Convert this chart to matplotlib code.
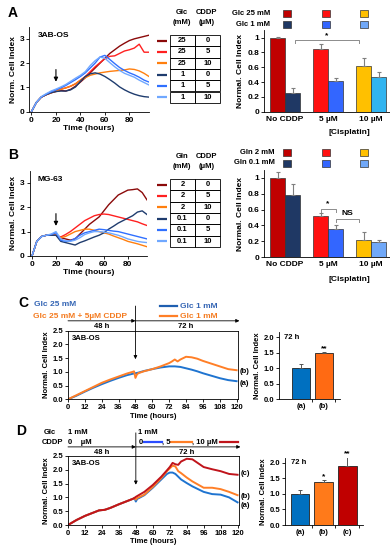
import matplotlib
matplotlib.use("Agg")
import matplotlib.pyplot as plt
from matplotlib.patches import Rectangle

plt.rcParams["font.family"] = ["Liberation Sans", "DejaVu Sans"]
plt.rcParams["font.weight"] = "bold"
plt.rcParams["axes.labelweight"] = "bold"
plt.rcParams["font.size"] = 5.5
plt.rcParams["axes.linewidth"] = 0.6
plt.rcParams["xtick.major.width"] = 0.6
plt.rcParams["ytick.major.width"] = 0.6
plt.rcParams["xtick.major.size"] = 2
plt.rcParams["ytick.major.size"] = 2
plt.rcParams["xtick.major.pad"] = 1.5
plt.rcParams["ytick.major.pad"] = 1.5

# -----------------------
# dados
# -----------------------
t_ab = [0, 4, 8, 12, 16, 20, 24, 28, 32, 36, 40, 44, 48, 52, 56, 60, 64, 68, 72, 76, 80, 84, 88, 92, 96]

a_glc25_0 = [0, 0.38, 0.6, 0.7, 0.78, 0.83, 0.88, 0.85, 0.92, 1.05, 1.22, 1.4, 1.6, 1.8, 2.0, 2.2, 2.4, 2.55, 2.7, 2.82, 2.93, 3.0, 3.05, 3.1, 3.15]
a_glc25_5 = [0, 0.38, 0.6, 0.7, 0.78, 0.85, 0.93, 0.98, 1.05, 1.15, 1.3, 1.45, 1.65, 1.85, 2.02, 2.18, 2.28, 2.3, 2.4, 2.5, 2.55, 2.62, 2.78, 2.45, 2.45]
a_glc25_10 = [0, 0.38, 0.6, 0.7, 0.78, 0.85, 0.92, 0.98, 1.05, 1.15, 1.3, 1.4, 1.5, 1.55, 1.6, 1.63, 1.66, 1.68, 1.7, 1.72, 1.76, 1.74, 1.68, 1.58, 1.45]
a_glc1_0 = [0, 0.38, 0.6, 0.7, 0.78, 0.83, 0.85, 0.85, 0.9, 1.02, 1.25, 1.45, 1.56, 1.6, 1.55, 1.45, 1.32, 1.18, 1.02, 0.9, 0.8, 0.72, 0.66, 0.62, 0.6]
a_glc1_5 = [0, 0.38, 0.6, 0.72, 0.82, 0.9, 0.98, 1.08, 1.2, 1.32, 1.45, 1.6, 1.8, 2.0, 2.25, 2.32, 2.15, 1.98, 1.82, 1.7, 1.6, 1.52, 1.42, 1.3, 1.22]
a_glc1_10 = [0, 0.38, 0.62, 0.74, 0.85, 0.93, 1.02, 1.12, 1.25, 1.38, 1.5, 1.65, 1.9, 2.1, 2.25, 2.2, 2.02, 1.85, 1.7, 1.58, 1.5, 1.42, 1.3, 1.2, 1.1]

b_gln2_0 = [0, 0.6, 0.8, 0.85, 0.85, 0.85, 0.75, 0.7, 0.65, 0.7, 0.9, 1.1, 1.3, 1.45, 1.6, 1.85, 2.1, 2.3, 2.5, 2.6, 2.7, 2.72, 2.75, 2.6, 2.3]
b_gln2_5 = [0, 0.6, 0.8, 0.85, 0.85, 0.85, 0.78, 0.88, 1.0, 1.15, 1.3, 1.45, 1.55, 1.65, 1.7, 1.72, 1.7, 1.65, 1.6, 1.55, 1.5, 1.45, 1.4, 1.32, 1.25]
b_gln2_10 = [0, 0.6, 0.8, 0.85, 0.85, 0.85, 0.75, 0.8, 0.9, 1.0, 1.05, 1.1, 1.1, 1.05, 1.0, 0.95, 0.9, 0.82, 0.75, 0.68, 0.6, 0.55, 0.5, 0.44, 0.38]
b_gln01_0 = [0, 0.6, 0.8, 0.85, 0.85, 0.85, 0.6, 0.55, 0.5, 0.45, 0.55, 0.62, 0.7, 0.78, 0.85, 0.95, 1.1, 1.22, 1.35, 1.45, 1.55, 1.65, 1.8, 1.85, 1.7]
b_gln01_5 = [0, 0.6, 0.8, 0.85, 0.88, 0.95, 0.65, 0.6, 0.62, 0.72, 0.85, 0.95, 1.0, 1.05, 1.1, 1.08, 1.05, 1.02, 1.0, 0.95, 0.9, 0.85, 0.8, 0.75, 0.7]
b_gln01_10 = [0, 0.6, 0.8, 0.85, 0.9, 1.0, 0.7, 0.62, 0.6, 0.65, 0.75, 0.88, 0.95, 1.0, 1.0, 0.98, 0.95, 0.9, 0.85, 0.78, 0.7, 0.65, 0.6, 0.57, 0.55]

tabela_a = [["25", "0"], ["25", "5"], ["25", "10"], ["1", "0"], ["1", "5"], ["1", "10"]]
tabela_b = [["2", "0"], ["2", "5"], ["2", "10"], ["0.1", "0"], ["0.1", "5"], ["0.1", "10"]]

grupos = ["No CDDP", "5 µM", "10 µM"]
barras_a = [1.0, 0.25, 0.85, 0.42, 0.62, 0.47]
erros_a = [0.01, 0.07, 0.07, 0.04, 0.1, 0.06]
barras_b = [1.0, 0.79, 0.52, 0.35, 0.22, 0.19]
erros_b = [0.08, 0.13, 0.04, 0.06, 0.1, 0.03]

t_c = [0, 6, 12, 18, 24, 30, 36, 42, 46, 47, 48, 49, 50, 54, 60, 66, 72, 74, 76, 78, 80, 84, 88, 92, 96, 102, 108, 114, 120]
c_a = [0, 0.13, 0.28, 0.42, 0.55, 0.67, 0.78, 0.88, 0.93, 0.94, 0.95, 0.96, 0.97, 1.03, 1.1, 1.16, 1.2, 1.2, 1.2, 1.19, 1.18, 1.13, 1.08, 1.02, 0.95, 0.86, 0.77, 0.7, 0.66]
c_b = [0, 0.15, 0.3, 0.45, 0.6, 0.72, 0.83, 0.94, 1.0, 1.02, 0.78, 0.9, 0.95, 1.02, 1.1, 1.2, 1.32, 1.38, 1.45, 1.38, 1.45, 1.55, 1.53, 1.48, 1.4, 1.3, 1.2, 1.1, 1.06]

t_d = [0, 6, 12, 18, 22, 26, 30, 36, 42, 46, 47, 48, 49, 50, 54, 60, 66, 70, 72, 74, 76, 78, 80, 84, 88, 96, 102, 108, 114, 120]
d_a = [0, 0.18, 0.33, 0.45, 0.53, 0.55, 0.62, 0.75, 0.87, 0.95, 0.98, 0.85, 0.95, 0.97, 1.08, 1.35, 1.65, 1.85, 1.9, 1.9, 1.85, 1.75, 1.65, 1.52, 1.4, 1.2, 1.12, 1.1, 1.0, 0.82]
d_b = [0, 0.18, 0.33, 0.45, 0.53, 0.55, 0.62, 0.75, 0.87, 0.95, 0.98, 0.92, 0.98, 1.0, 1.1, 1.38, 1.7, 1.95, 2.05, 2.15, 2.12, 1.95, 1.88, 1.72, 1.58, 1.35, 1.35, 1.3, 1.2, 1.08]
d_c = [0, 0.18, 0.33, 0.45, 0.53, 0.55, 0.62, 0.75, 0.87, 0.95, 0.98, 1.02, 1.05, 1.08, 1.2, 1.45, 1.75, 1.98, 2.1, 2.25, 2.2, 2.18, 2.3, 2.4, 2.38, 2.1, 2.02, 1.95, 1.85, 1.82]

rotulos_c = ["(a)", "(b)"]
barras_c = [1.0, 1.5]
erros_c = [0.12, 0.02]
rotulos_d = ["(a)", "(b)", "(c)"]
barras_d = [1.0, 1.38, 1.9]
erros_d = [0.13, 0.07, 0.27]

# cores
cores_linhas = ["#8B0A0A", "#FF2020", "#FF7F0E", "#1F3C6E", "#3070FF", "#70A8FF"]
cores_barras_a = ["#C00000", "#1F3864", "#FF1010", "#3366FF", "#FFC000", "#30B4F0"]
cores_barras_b = ["#C00000", "#1F3864", "#FF1010", "#3366FF", "#FFC000", "#70A8F8"]
cores_leg = ["#C00000", "#FF1010", "#FFC000", "#1F3864", "#3366FF", "#70A8F8"]
azul, laranja, vermelho = "#1F74D0", "#FF7F27", "#C0141B"

W, H = 390, 550


def caixa(l, t, r, b):
    return [l / W, 1 - b / H, (r - l) / W, (b - t) / H]


fig = plt.figure(figsize=(W / 100, H / 100), dpi=100)
ov = fig.add_axes([0, 0, 1, 1])
ov.set_xlim(0, W)
ov.set_ylim(H, 0)
ov.axis("off")


def painel_linhas(rect, t, series, cores, rotulo_y, celula):
    ax = fig.add_axes(rect)
    for y, c in zip(series, cores):
        ax.plot(t, y, color=c, lw=1)
    ax.spines["top"].set_visible(False)
    ax.spines["right"].set_visible(False)
    ax.set_xlim(-2, 96)
    ax.set_xticks([0, 20, 40, 60, 80])
    ax.set_ylim(0, 3.5)
    ax.set_yticks([0, 1, 2, 3])
    ax.tick_params(labelsize=6)
    ax.set_xlabel("Time (hours)", fontsize=6, labelpad=1)
    ax.set_ylabel(rotulo_y, fontsize=6, labelpad=2)
    ax.text(5, 3.15, celula, fontsize=6, weight="bold", va="center")
    ax.annotate("", xy=(20, 1.12), xytext=(20, 1.85),
                arrowprops=dict(arrowstyle="-|>", color="k", lw=0.8, mutation_scale=6))
    return ax


def tabela(y0, linhas, cab, cores):
    ov.text(182, y0 - 22, cab, ha="center", va="center", fontsize=5.5)
    ov.text(182, y0 - 12, "(mM)", ha="center", va="center", fontsize=5.5)
    ov.text(207, y0 - 22, "CDDP", ha="center", va="center", fontsize=5.5)
    ov.text(207, y0 - 12, "(µM)", ha="center", va="center", fontsize=5.5)
    h = 11.3
    for i, (a, b) in enumerate(linhas):
        y = y0 + i * h
        for x, s in [(170, a), (195, b)]:
            ov.add_patch(Rectangle((x, y), 25, h, fill=False, lw=0.6, ec="k"))
            ov.text(x + 12.5, y + h / 2, s, ha="center", va="center", fontsize=5.5)
        ov.plot([157, 167], [y + h / 2, y + h / 2], color=cores[i], lw=1.6,
                solid_capstyle="butt")


def painel_barras(rect, vals, errs, cores, rotulos_leg, y_leg, x_fim_leg):
    ax = fig.add_axes(rect)
    pos = []
    for g in range(3):
        pos += [g - 0.175, g + 0.175]
    ax.bar(pos, vals, width=0.35, color=cores, edgecolor="#333333", lw=0.5,
           yerr=[[0] * 6, errs], error_kw=dict(ecolor="#7F7F7F", lw=0.8, capsize=1.5, capthick=0.8))
    ax.spines["top"].set_visible(False)
    ax.spines["right"].set_visible(False)
    ax.set_xlim(-0.49, 2.44)
    ax.set_ylim(0, 1.1)
    ax.set_yticks([0, 0.2, 0.4, 0.6, 0.8, 1.0])
    ax.set_yticklabels(["0", "0.2", "0.4", "0.6", "0.8", "1"])
    ax.set_xticks([0, 1, 2])
    ax.set_xticklabels(grupos)
    ax.tick_params(axis="x", length=0, labelsize=6, pad=3)
    ax.tick_params(axis="y", labelsize=6)
    ax.set_ylabel("Normal. Cell Index", fontsize=6, labelpad=2)
    ax.text(1.5, -0.28, "[Cisplatin]", transform=ax.transData, ha="center",
            va="center", fontsize=6)
    # legenda em quadrados
    for lin, rot in enumerate(rotulos_leg):
        y = y_leg + lin * 11
        ov.text(x_fim_leg, y, rot, ha="right", va="center", fontsize=5.5)
        for k, x in enumerate([287, 325.5, 364]):
            ov.add_patch(Rectangle((x - 4, y - 3.5), 8, 7, fc=cores_leg[lin * 3 + k],
                                   ec="#333333", lw=0.5))
    return ax, pos


def colchete(ax, x0, x1, y, d, txt, ytxt):
    ax.plot([x0, x0, x1, x1], [y - d, y, y, y - d], color="#8C8C8C", lw=0.7, clip_on=False)
    ax.text((x0 + x1) / 2, ytxt, txt, ha="center", va="center", fontsize=6)


# -----------------------
# Painel A
# -----------------------
ov.text(8, 13, "A", fontsize=10, weight="bold", va="center")
painel_linhas(caixa(29, 26.7, 149, 111.7), t_ab,
              [a_glc25_0, a_glc25_5, a_glc25_10, a_glc1_0, a_glc1_5, a_glc1_10],
              cores_linhas, "Norm. Cell Index", "3AB-OS")
tabela(35, tabela_a, "Glc", cores_linhas)
axa, pos = painel_barras(caixa(264, 30.3, 390, 111.7), barras_a, erros_a, cores_barras_a,
                         ["Glc 25 mM", "Glc 1 mM"], 13.5, 270)
colchete(axa, pos[1] + 0.05, pos[4] - 0.1, 0.97, 0.04, "*", 1.03)

# -----------------------
# Painel B
# -----------------------
ov.text(8, 155, "B", fontsize=10, weight="bold", va="center")
painel_linhas(caixa(29.6, 170.6, 147, 256), t_ab,
              [b_gln2_0, b_gln2_5, b_gln2_10, b_gln01_0, b_gln01_5, b_gln01_10],
              cores_linhas, "Normal. Cell Index", "MG-63")
tabela(179, tabela_b, "Gln", cores_linhas)
axb, pos = painel_barras(caixa(264, 170.1, 390, 257), barras_b, erros_b, cores_barras_b,
                         ["Gln 2 mM", "Gln 0.1 mM"], 152, 275)
colchete(axb, pos[2], pos[3], 0.61, 0.04, "*", 0.68)
colchete(axb, pos[3], pos[4] - 0.1, 0.48, 0.04, "NS", 0.55)


# -----------------------
# Paineis C e D (linhas)
# -----------------------
def painel_tempo(rect, t, series, cores, rotulos, y_rot, y_seta, y_48):
    ax = fig.add_axes(rect)
    for y, c in zip(series, cores):
        ax.plot(t, y, color=c, lw=1.4)
    ax.set_xlim(0, 121)
    ax.set_xticks(range(0, 121, 12))
    ax.set_ylim(0, 2.5)
    ax.set_yticks([0, 0.5, 1.0, 1.5, 2.0, 2.5])
    ax.set_yticklabels(["0.0", "0.5", "1.0", "1.5", "2.0", "2.5"])
    ax.tick_params(labelsize=5.5)
    ax.set_xlabel("Time (hours)", fontsize=5.5, labelpad=1)
    ax.set_ylabel("Normal. Cell Index", fontsize=5.5, labelpad=2)
    ax.text(3, 2.22, "3AB-OS", fontsize=5.5, va="center")
    for r, yy in zip(rotulos, y_rot):
        ax.text(122, yy, r, fontsize=5.5, va="center", clip_on=False)
    ax.annotate("", xy=(48, 1.36), xytext=(48, y_seta),
                arrowprops=dict(arrowstyle="-|>", color="k", lw=0.6, mutation_scale=5),
                annotation_clip=False)
    ax.annotate("", xy=(48, y_48), xytext=(0, y_48),
                arrowprops=dict(arrowstyle="-|>", color="k", lw=0.6, mutation_scale=5,
                                shrinkA=0, shrinkB=0), annotation_clip=False)
    ax.annotate("", xy=(122, y_48), xytext=(48, y_48),
                arrowprops=dict(arrowstyle="-|>", color="k", lw=0.6, mutation_scale=5,
                                shrinkA=0, shrinkB=0), annotation_clip=False)
    ax.text(24, y_48 - 0.2, "48 h", ha="center", va="center", fontsize=5.5, clip_on=False)
    ax.text(84, y_48 - 0.2, "72 h", ha="center", va="center", fontsize=5.5, clip_on=False)
    return ax


def painel_barras72(rect, vals, errs, cores, rotulos, xlim, marcas):
    ax = fig.add_axes(rect)
    pos = list(range(len(vals)))
    ax.bar(pos, vals, width=0.78, color=cores, edgecolor="#222222", lw=0.6,
           yerr=[[0] * len(vals), errs],
           error_kw=dict(ecolor="#555555", lw=0.7, capsize=1.5, capthick=0.7))
    ax.spines["top"].set_visible(False)
    ax.spines["right"].set_visible(False)
    ax.set_xlim(*xlim)
    ax.set_ylim(0, 2.15)
    ax.set_yticks([0, 0.5, 1.0, 1.5, 2.0])
    ax.set_yticklabels(["0.0", "0.5", "1.0", "1.5", "2.0"])
    ax.set_xticks(pos)
    ax.set_xticklabels(rotulos)
    ax.set_xticks([p + 0.5 for p in pos], minor=True)
    ax.tick_params(axis="x", which="major", length=0, labelsize=5.5, pad=3)
    ax.tick_params(axis="x", which="minor", length=2, width=0.6)
    ax.tick_params(axis="y", labelsize=5.5)
    ax.set_ylabel("Normal. Cell Index", fontsize=5.5, labelpad=2)
    ax.text(0.08, 0.93, "72 h", transform=ax.transAxes, fontsize=5.5, va="center")
    for p, v, e, m in zip(pos, vals, errs, marcas):
        if m:
            ax.text(p, v + e + 0.1, m, ha="center", va="center", fontsize=6, clip_on=False)
    return ax


# C
ov.text(18, 303, "C", fontsize=10, weight="bold", va="center")
painel_tempo(caixa(68, 330.7, 238, 399.3), t_c, [c_a, c_b], [azul, laranja],
             ["(b)", "(a)"], [1.0, 0.57], 3.5, 2.86)
ov.text(34, 305, "Glc 25 mM", color="#3465B4", fontsize=6, va="center")
ov.text(33, 316, "Glc 25 mM + 5µM CDDP", color="#F47B20", fontsize=6, va="center")
ov.plot([160, 177], [306, 306], color="#1F5FB0", lw=1.6)
ov.text(180, 306, "Glc 1 mM", color="#3465B4", fontsize=6, va="center")
ov.plot([160, 177], [316, 316], color=laranja, lw=1.6)
ov.text(180, 316, "Glc 1 mM", color="#F47B20", fontsize=6, va="center")
painel_barras72(caixa(279, 332.4, 340, 399), barras_c, erros_c, ["#0070C0", "#FF6A13"],
                rotulos_c, (-0.96, 1.7), ["", "**"])

# D
ov.text(16, 431, "D", fontsize=10, weight="bold", va="center")
painel_tempo(caixa(68, 456, 239, 525), t_d, [d_a, d_b, d_c], [azul, laranja, vermelho],
             ["(c)", "(b)", "(a)"], [1.88, 1.05, 0.72], 3.44, 2.83)
ov.text(56, 432, "Glc", ha="right", va="center", fontsize=5.5)
ov.text(63, 442, "CDDP", ha="right", va="center", fontsize=5.5)
ov.text(68, 432, "1 mM", va="center", fontsize=5.5)
ov.text(68, 442, "0    µM", va="center", fontsize=5.5)
ov.text(138, 432, "1 mM", va="center", fontsize=5.5)
ov.text(139, 442, "0", va="center", fontsize=5.5)
ov.plot([144, 162], [442, 442], color="#2B4DFF", lw=1.6)
ov.text(162, 442, ", 5", va="center", fontsize=5.5)
ov.plot([171, 192], [442, 442], color=laranja, lw=1.6)
ov.text(192, 442, ", 10 µM", va="center", fontsize=5.5)
ov.plot([220, 238], [442, 442], color=vermelho, lw=1.6)
painel_barras72(caixa(285, 457.9, 363, 525), barras_d, erros_d, ["#0070C0", "#FF7A1A", "#C00000"],
                rotulos_d, (-0.63, 2.66), ["", "*", "**"])

fig.savefig("out.png", dpi=100)
